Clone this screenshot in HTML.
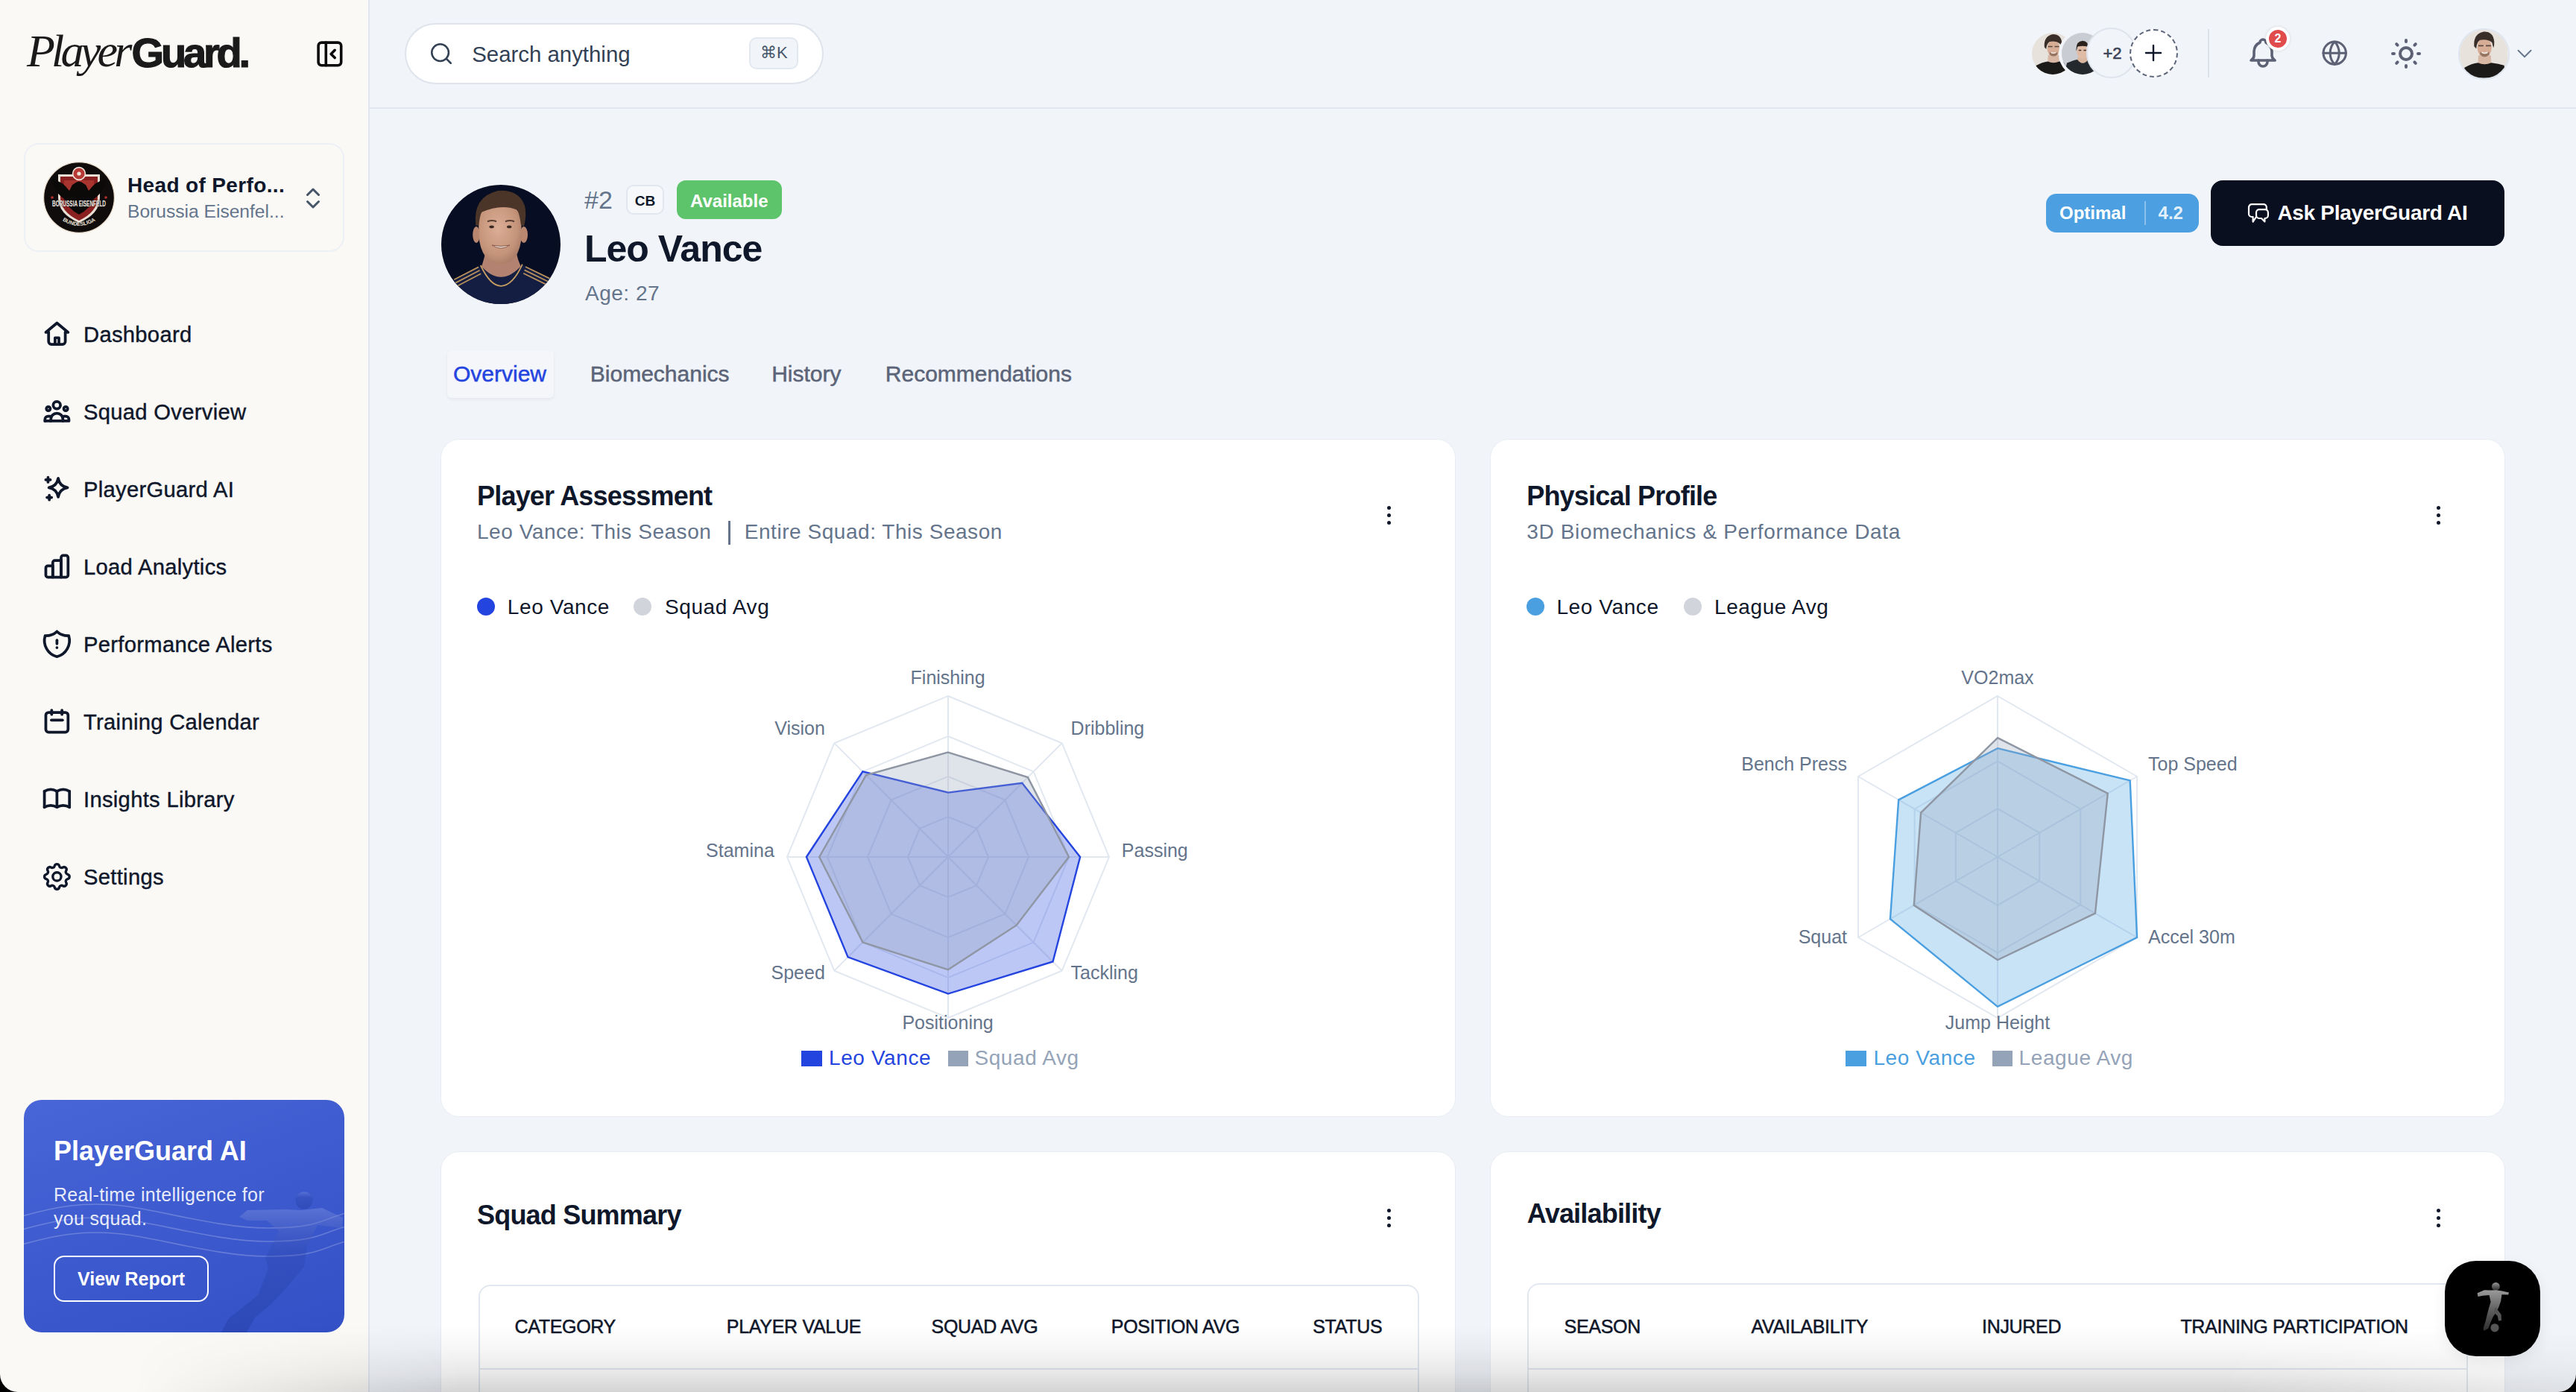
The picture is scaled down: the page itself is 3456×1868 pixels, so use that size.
<!DOCTYPE html>
<html>
<head>
<meta charset="utf-8">
<style>
@media (min-width: 2000px) { html { zoom: 2; } }
html, body { margin: 0; padding: 0; }
body { width: 1728px; height: 934px; overflow: hidden; position: relative; background: #f1f4f9; font-family: "Liberation Sans", sans-serif; color: #0f172a; }
.a { position: absolute; line-height: 1; white-space: nowrap; }
svg { display: block; }
.ic { position: absolute; fill: none; stroke: #0f172a; stroke-width: 2; stroke-linecap: round; stroke-linejoin: round; }
#sb { position: absolute; left: 0; top: 0; width: 247px; height: 934px; background: #faf9f6; border-right: 1px solid #e1e5ee; }
#hdr { position: absolute; left: 248px; top: 0; width: 1480px; height: 72px; border-bottom: 1px solid #e3e7ef; }
.nav { font-size: 14.6px; letter-spacing: 0.15px; color: #0f172a; -webkit-text-stroke: 0.2px #0f172a; }
.card { position: absolute; background: #fff; border-radius: 12px; box-shadow: 0 0 0 0.5px rgba(203,213,225,0.22); }
.ttl { font-size: 18px; font-weight: 700; letter-spacing: -0.4px; color: #0f172a; }
.sub { font-size: 14px; letter-spacing: 0.27px; color: #64748b; }
.lbl { font-size: 12.5px; color: #64748b; }
.kebab { position: absolute; width: 3px; }
.kebab i { display: block; width: 2.5px; height: 2.5px; border-radius: 50%; background: #0f172a; margin-bottom: 2.6px; }
.th { font-size: 12.5px; letter-spacing: -0.15px; color: #0f172a; -webkit-text-stroke: 0.25px #0f172a; }
.tbl { position: absolute; border: 1px solid #e2e8f0; border-radius: 8px; background: #fff; }
.tab { font-size: 15px; color: #5b6478; -webkit-text-stroke: 0.25px currentColor; }
</style>
</head>
<body>

<!-- SIDEBAR -->
<div id="sb"></div>
<div class="a" style="left:18px;top:18.6px;font-family:'Liberation Serif',serif;font-style:italic;font-size:31px;letter-spacing:-2.4px;color:#1a1a1a;">Player</div>
<div class="a" style="left:88.3px;top:21.5px;font-size:28px;font-weight:700;letter-spacing:-2.1px;color:#1a1a1a;-webkit-text-stroke:0.6px #1a1a1a;">Guard.</div>
<svg class="ic" style="left:211px;top:26px;stroke:#0a0a0a;stroke-width:2.1" width="20.4" height="20.4" viewBox="0 0 24 24"><rect x="3" y="3" width="18" height="18" rx="2.5"/><path d="M9 3v18"/><path d="m16 15-3-3 3-3"/></svg>

<div style="position:absolute;left:16px;top:96px;width:213px;height:71px;border:1px solid #edf0f5;border-radius:10px;"></div>
<svg id="clublogo" style="position:absolute;left:29px;top:108.6px" width="48" height="48" viewBox="0 0 48 48">
<defs><path id="arcb" d="M10 37.5 Q24 48.5 38 37.5"/></defs>
<circle cx="24" cy="24" r="23.7" fill="#100c0c" stroke="#e9dccb" stroke-width="0.6"/>
<path d="M10 8.5 H38 V24 Q38 35 24 41 Q10 35 10 24 Z" fill="#e9dfd4"/>
<path d="M11.5 10 H36.5 V24 Q36.5 33.5 24 39.5 Q11.5 33.5 11.5 24 Z" fill="#8a2020"/>
<path d="M14 12.5 H34 V23 Q34 30 24 35.5 Q14 30 14 23 Z" fill="#a83430"/>
<circle cx="24" cy="8" r="4.2" fill="#b83a36" stroke="#eee4da" stroke-width="0.8"/>
<circle cx="24" cy="8" r="1.3" fill="#eee4da"/>
<path d="M5.5 11.5 Q13 13 17.5 19.5 L19.5 15.5 Q24 12.5 28.5 15.5 L30.5 19.5 Q35 13 42.5 11.5 Q41 20 34 25 Q31 32 24 35.5 Q17 32 14 25 Q7 20 5.5 11.5Z" fill="#0c0909"/>
<path d="M20.5 15 Q24 11.5 27.5 15 L26 18 L22 18 Z" fill="#0c0909"/>
<text x="24" y="30.2" text-anchor="middle" font-family="Liberation Sans" font-weight="700" font-size="5" textLength="36" lengthAdjust="spacingAndGlyphs" fill="#f4eee6" stroke="#0c0909" stroke-width="0.35" paint-order="stroke">BORUSSIA EISENFELD</text>
<text font-family="Liberation Sans" font-weight="700" font-size="3.6" fill="#efe6da"><textPath href="#arcb" startOffset="50%" text-anchor="middle">BUNDESLIGA</textPath></text>
<circle cx="6" cy="24" r="0.9" fill="#b83030"/><circle cx="42" cy="24" r="0.9" fill="#b83030"/>
</svg>
<div class="a" style="left:85.5px;top:117.6px;font-size:14px;font-weight:700;letter-spacing:0.18px;color:#0f172a;">Head of Perfo...</div>
<div class="a" style="left:85.5px;top:136px;font-size:12.3px;color:#64748b;">Borussia Eisenfel...</div>
<svg class="ic" style="left:201px;top:124px;stroke:#475569;stroke-width:2" width="18" height="18" viewBox="0 0 24 24"><path d="m7 15 5 5 5-5"/><path d="m7 9 5-5 5 5"/></svg>

<div class="a nav" style="left:56px;top:217.5px">Dashboard</div>
<div class="a nav" style="left:56px;top:269.5px">Squad Overview</div>
<div class="a nav" style="left:56px;top:321.5px">PlayerGuard AI</div>
<div class="a nav" style="left:56px;top:373.5px">Load Analytics</div>
<div class="a nav" style="left:56px;top:425.5px">Performance Alerts</div>
<div class="a nav" style="left:56px;top:477.5px">Training Calendar</div>
<div class="a nav" style="left:56px;top:529.5px">Insights Library</div>
<div class="a nav" style="left:56px;top:581.5px">Settings</div>


<!-- nav icons -->
<svg class="ic" style="left:26.8px;top:213.1px" width="22.4" height="22.4" viewBox="0 0 24 24"><path d="M6 10.7H4L12 4l8 6.7h-2"/><path d="M6 10.7v6.6a2 2 0 0 0 2 2h8a2 2 0 0 0 2-2v-6.6"/><path d="M10.66 19.3v-4.7h2.74v4.7"/></svg>
<svg class="ic" style="left:26.8px;top:265.1px" width="22.4" height="22.4" viewBox="0 0 24 24"><circle cx="11.9" cy="7.4" r="2.6"/><circle cx="5.8" cy="9.9" r="1.4"/><circle cx="18.3" cy="9.9" r="1.4"/><path d="M3.4 18.7h17.2v-1.2a2.2 2.2 0 0 0-2.2-2.2h-1.6"/><path d="M3.4 18.7v-1.2a2.2 2.2 0 0 1 2.2-2.2h1.6"/><path d="M7.6 18.7v-1.2a4.35 4.35 0 0 1 8.7 0v1.2"/></svg>
<svg class="ic" style="left:26.8px;top:317.1px" width="22.4" height="22.4" viewBox="0 0 24 24"><path d="M12.9 4.2Q13.9 9.9 19.6 10.9Q13.9 11.9 12.9 17.6Q11.9 11.9 6.2 10.9Q11.9 9.9 12.9 4.2Z"/><path d="M5.6 3.6v3.3M3.95 5.25h3.3"/><path d="M6.5 16.35v3.3M4.85 18h3.3"/></svg>
<svg class="ic" style="left:26.8px;top:369.1px" width="22.4" height="22.4" viewBox="0 0 24 24"><path d="M9 19.6H5.5A1.5 1.5 0 0 1 4 18.1v-5.2a1.5 1.5 0 0 1 1.5-1.5H9z"/><path d="M9 19.6V9.1a1.5 1.5 0 0 1 1.5-1.5H15v12z"/><path d="M15 19.6V5.5A1.5 1.5 0 0 1 16.5 4h2A1.5 1.5 0 0 1 20 5.5v12.6a1.5 1.5 0 0 1-1.5 1.5z"/></svg>
<svg class="ic" style="left:26.8px;top:421.1px" width="22.4" height="22.4" viewBox="0 0 24 24"><path d="M12 3a12 12 0 0 0 8.5 3a12 12 0 0 1-8.5 15a12 12 0 0 1-8.5-15a12 12 0 0 0 8.5-3"/><path d="M12 9.2v2.5"/><path d="M12 14.5v.01"/></svg>
<svg class="ic" style="left:26.8px;top:473.1px" width="22.4" height="22.4" viewBox="0 0 24 24"><rect x="4" y="5.4" width="16" height="14.2" rx="2"/><path d="M8.2 3.8v3"/><path d="M15.6 3.8v3"/><path d="M8 10.9h8"/></svg>
<svg class="ic" style="left:26.8px;top:525.1px" width="22.4" height="22.4" viewBox="0 0 24 24"><path d="M3 17.8a9 9 0 0 1 9 0a9 9 0 0 1 9 0"/><path d="M3 6.3a9 9 0 0 1 9 0a9 9 0 0 1 9 0"/><path d="M3 6.3v11.5"/><path d="M12 6.3v11.5"/><path d="M21 6.3v11.5"/></svg>
<svg class="ic" style="left:26.8px;top:577.1px;stroke-width:1.8" width="22.4" height="22.4" viewBox="0 0 24 24"><path d="M10.325 4.317c.426-1.756 2.924-1.756 3.35 0a1.724 1.724 0 0 0 2.573 1.066c1.543-.94 3.31.826 2.37 2.37a1.724 1.724 0 0 0 1.065 2.572c1.756.426 1.756 2.924 0 3.35a1.724 1.724 0 0 0-1.066 2.573c.94 1.543-.826 3.31-2.37 2.37a1.724 1.724 0 0 0-2.572 1.065c-.426 1.756-2.924 1.756-3.35 0a1.724 1.724 0 0 0-2.573-1.066c-1.543.94-3.31-.826-2.37-2.37a1.724 1.724 0 0 0-1.065-2.572c-1.756-.426-1.756-2.924 0-3.35a1.724 1.724 0 0 0 1.066-2.573c-.94-1.543.826-3.31 2.37-2.37c1 .608 2.296.07 2.572-1.065z"/><path d="M9 12a3 3 0 1 0 6 0a3 3 0 0 0-6 0"/></svg>

<!-- promo -->
<div id="promo" style="position:absolute;left:16px;top:738px;width:215px;height:156px;border-radius:12px;background:linear-gradient(160deg,#4866d8 0%,#3c59cd 55%,#3350c6 100%);overflow:hidden;">
<svg width="215" height="156" viewBox="0 0 215 156" style="position:absolute;left:0;top:0">
<defs><linearGradient id="sil" x1="0" y1="0" x2="0" y2="1"><stop offset="0" stop-color="#7f94e0" stop-opacity="0.45"/><stop offset="0.35" stop-color="#2a43a8" stop-opacity="0.28"/><stop offset="1" stop-color="#1d3596" stop-opacity="0.35"/></linearGradient></defs>
<path d="M-1 78 C 20 72, 40 68, 66 71 S 130 86, 164 86 S 200 80, 216 76" stroke="rgba(255,255,255,0.22)" stroke-width="0.8" fill="none"/>
<path d="M-1 87 C 20 81, 40 77, 66 80 S 130 95, 164 95 S 200 89, 216 85" stroke="rgba(255,255,255,0.22)" stroke-width="0.8" fill="none"/>
<path d="M-1 97 C 20 91, 40 87, 66 90 S 130 105, 164 105 S 200 99, 216 95" stroke="rgba(255,255,255,0.22)" stroke-width="0.8" fill="none"/>
<circle cx="188" cy="67.5" r="5.8" fill="url(#sil)"/><path d="M150 74 L176 73.5 L186 74 L200 72.5 L214 79 L213.5 86 L197 84 L190 98 L188 112 L178 124 L166 137 L155 146 L149 157 L132 157 L137 147 L157 131 L164 113 L162 106 L171 88 L163 81 L150 81 L144.5 78.5 Z" fill="url(#sil)"/>
</svg></div>
<div class="a" style="left:36px;top:763.3px;font-size:18px;font-weight:700;color:#fff;">PlayerGuard AI</div>
<div class="a" style="left:36px;top:795.3px;font-size:12.5px;letter-spacing:0.15px;color:rgba(255,255,255,0.9);">Real-time intelligence for</div>
<div class="a" style="left:36px;top:811.3px;font-size:12.5px;letter-spacing:0.15px;color:rgba(255,255,255,0.9);">you squad.</div>
<div style="position:absolute;left:36px;top:842.4px;width:102px;height:29px;border:1.2px solid #fff;border-radius:7px;"></div>
<div class="a" style="left:36px;top:852px;width:104px;text-align:center;font-size:12.5px;font-weight:700;color:#fff;">View Report</div>

<!-- HEADER -->
<div id="hdr"></div>
<div style="position:absolute;left:271.5px;top:15.5px;width:279px;height:39px;border:1px solid #dfe4ec;border-radius:21px;background:#fff;"></div>
<svg class="ic" style="left:287.3px;top:27.3px;stroke:#334155;stroke-width:1.8" width="17" height="17" viewBox="0 0 24 24"><circle cx="11" cy="11" r="8"/><path d="m21 21-4.3-4.3"/></svg>
<div class="a" style="left:316.6px;top:28.8px;font-size:14.7px;color:#334155;">Search anything</div>
<div style="position:absolute;left:502.7px;top:25px;width:31px;height:19.5px;border:1px solid #e2e8f0;border-radius:5px;background:#f1f5f9;"></div>
<div class="a" style="left:502.7px;top:30px;width:33px;text-align:center;font-size:11px;color:#475569;">⌘K</div>


<!-- header right -->
<div id="av1" style="position:absolute;left:1363px;top:21.9px;width:28px;height:28px;border-radius:50%;overflow:hidden;"><svg width="28" height="28" viewBox="0 0 32 32"><rect width="32" height="32" fill="#e7e2dc"/>
<path d="M12.4 17 L12.2 22.5 Q16.5 24.5 21 22.5 L20.8 17 Z" fill="#d8b8a4"/>
<path d="M2 32 L3.2 25.2 Q8 22.5 12.2 22 Q16.5 24 21 22 Q26 22.6 29.6 23.7 L31 32 Z" fill="#1c1a19"/>
<ellipse cx="16.5" cy="11.8" rx="4.8" ry="6.4" fill="#d7ad96"/>
<path d="M9.6 11 Q9 2.5 16 1.2 Q22.5 1 23 8 Q23.2 10.5 22.4 12 L21.6 8.6 Q19 6 13.5 6.8 Q11.2 8.5 11 12.5 Z" fill="#3a2e28"/>
<path d="M12.4 10.6 h3.4 M17.4 10.6 h3.4" stroke="#5a4a42" stroke-width="0.9"/>
<path d="M13.8 14.5 Q16.5 17.5 19.5 14.5 L19.8 16.5 Q16.5 19.5 13.5 16.5Z" fill="#5e4536" opacity="0.55"/>
<path d="M14.6 15 Q16.5 16.2 18.6 15" stroke="#f2ebe6" stroke-width="0.8" fill="none"/></svg></div>
<div id="av2" style="position:absolute;left:1381px;top:19.9px;width:28px;height:28px;border-radius:50%;overflow:hidden;border:2px solid #f1f4f9;"><svg width="28" height="28" viewBox="0 0 32 32"><rect width="32" height="32" fill="#c9ccd2"/>
<path d="M12 19 L12 23.5 Q16 25 20 23.5 L20 19 Z" fill="#d9b6a0"/>
<path d="M2 32 L4 23.1 Q9 21 12 20.5 Q16 26 20.5 20.5 Q26 21.5 30 24 L31 32 Z" fill="#23282c"/>
<ellipse cx="15.8" cy="14.6" rx="4.3" ry="5.6" fill="#e0bca6"/>
<path d="M11.2 14 Q10.6 6.4 16 6.1 Q21 6.3 20.6 13 L19.8 10.6 Q16 9.6 12.2 10.6 Z" fill="#2a211d"/>
<path d="M13 13.4 h2 M16.8 13.4 h2" stroke="#3d2f28" stroke-width="0.8"/></svg></div>
<div style="position:absolute;left:1399.5px;top:18.7px;width:31.6px;height:31.6px;border-radius:50%;background:#f1f4f9;border:1.4px solid #dfe4ec;"></div>
<div class="a" style="left:1400px;top:30.4px;width:34px;text-align:center;font-size:11px;color:#3c4356;-webkit-text-stroke:0.3px #3c4356;">+2</div>
<div style="position:absolute;left:1428.5px;top:19.5px;width:30.5px;height:30.5px;border-radius:50%;background:#fff;border:1px dashed #5b6478;"></div>
<svg class="ic" style="left:1436.75px;top:27.75px;stroke:#0f172a;stroke-width:1.2" width="15" height="15" viewBox="0 0 15 15"><path d="M7.5 2.5v10M2.5 7.5h10"/></svg>
<div style="position:absolute;left:1481px;top:19.5px;width:1px;height:32.5px;background:#dde2ea;"></div>
<svg class="ic" style="left:1505.85px;top:23.6px;stroke:#5d6175;stroke-width:1.8" width="24" height="24" viewBox="0 0 24 24"><path d="M10 5a2 2 0 1 1 4 0a7 7 0 0 1 4 6v3a4 4 0 0 0 2 3h-16a4 4 0 0 0 2-3v-3a7 7 0 0 1 4-6"/><path d="M9 17v1a3 3 0 0 0 6 0v-1"/></svg>
<div style="position:absolute;left:1520px;top:18px;width:12px;height:12px;border-radius:50%;background:#e04b4b;border:2px solid #fff;box-shadow:0 0 2px rgba(0,0,0,0.12);"></div>
<div class="a" style="left:1520px;top:22.2px;width:16px;text-align:center;font-size:8px;font-weight:700;color:#fff;">2</div>
<svg class="ic" style="left:1556.75px;top:26.7px;stroke:#5d6175;stroke-width:2" width="18.2" height="18.2" viewBox="0 0 24 24"><circle cx="12" cy="12" r="10"/><path d="M12 2a14.5 14.5 0 0 0 0 20a14.5 14.5 0 0 0 0-20"/><path d="M2 12h20"/></svg>
<svg class="ic" style="left:1602px;top:24px;stroke:#5d6175;stroke-width:2" width="24" height="24" viewBox="0 0 24 24"><circle cx="12" cy="12" r="4"/><path d="M3 12h1m8-9v1m8 8h1m-9 8v1m-6.4-15.4l.7.7m12.1-.7l-.7.7m0 11.4l.7.7m-12.1-.7l-.7.7"/></svg>
<div id="av3" style="position:absolute;left:1649.2px;top:19.2px;width:32.2px;height:32.2px;border-radius:50%;overflow:hidden;border:1.4px solid #dfe5ef;"><svg width="32.2" height="32.2" viewBox="0 0 32 32"><rect width="32" height="32" fill="#e7e2dc"/>
<path d="M12.4 17 L12.2 22.5 Q16.5 24.5 21 22.5 L20.8 17 Z" fill="#d8b8a4"/>
<path d="M2 32 L3.2 25.2 Q8 22.5 12.2 22 Q16.5 24 21 22 Q26 22.6 29.6 23.7 L31 32 Z" fill="#1c1a19"/>
<ellipse cx="16.5" cy="11.8" rx="4.8" ry="6.4" fill="#d7ad96"/>
<path d="M9.6 11 Q9 2.5 16 1.2 Q22.5 1 23 8 Q23.2 10.5 22.4 12 L21.6 8.6 Q19 6 13.5 6.8 Q11.2 8.5 11 12.5 Z" fill="#3a2e28"/>
<path d="M12.4 10.6 h3.4 M17.4 10.6 h3.4" stroke="#5a4a42" stroke-width="0.9"/>
<path d="M13.8 14.5 Q16.5 17.5 19.5 14.5 L19.8 16.5 Q16.5 19.5 13.5 16.5Z" fill="#5e4536" opacity="0.55"/>
<path d="M14.6 15 Q16.5 16.2 18.6 15" stroke="#f2ebe6" stroke-width="0.8" fill="none"/></svg></div>
<svg class="ic" style="left:1685.2px;top:27.6px;stroke:#64748b;stroke-width:1.3" width="17" height="17" viewBox="0 0 24 24"><path d="m6 9 6 6 6-6"/></svg>

<!-- player header -->
<div id="photo" style="position:absolute;left:296px;top:124px;width:80px;height:80px;border-radius:50%;overflow:hidden;">
<svg width="80" height="80" viewBox="0 0 80 80"><rect width="80" height="80" fill="#070d22"/>
<defs><radialGradient id="skin" cx="0.45" cy="0.4" r="0.65"><stop offset="0" stop-color="#dcae95"/><stop offset="0.7" stop-color="#c4937a"/><stop offset="1" stop-color="#a87a65"/></radialGradient></defs>
<path d="M30 44 L28.5 50 L26.7 56 Q40 70 53.8 56 L51.5 50 L50 44 Z" fill="#b48270"/>
<path d="M0 80 L4 68 Q8 63 12 62.5 L26.4 54 Q40 70 54.4 53.5 L70 62 Q76 64 80 72 L80 80 Z" fill="#141d42"/>
<path d="M8.6 63.6 L25 55.2 M9.6 65.8 L25.8 57.4 M10.6 68 L26.6 59.6 M56.5 55 L72.6 62.8 M55.8 57.2 L71.8 65 M55.1 59.4 L71 67.2" stroke="#b8915a" stroke-width="0.9"/>
<path d="M26.4 54 Q33 68 40.2 67.9 Q48 67.5 54.4 53.3" stroke="#c59d62" stroke-width="0.9" fill="none"/>
<ellipse cx="23.5" cy="33.5" rx="2.4" ry="5.5" fill="#b98670"/><ellipse cx="55.4" cy="33.5" rx="2.6" ry="5.5" fill="#b98670"/>
<path d="M25 26 Q24.5 14 40 13 Q54 13.5 53.8 26 L53.5 38 Q52 47 47.3 51 Q43 53 40 53 Q36 53 32 51 Q27 46 25.6 38 Z" fill="url(#skin)"/>
<path d="M23.1 27.3 Q21 8 38 4 Q52 3 56 14 Q57.5 20 55.5 28 L53.5 27 Q52.5 19 50.8 16.7 Q40 12.5 27 18.4 Q25.6 22 25.2 27.5 Z" fill="#4a3528"/>
<path d="M31 24.6 Q34 23.4 37 24.6 M43 24.6 Q46 23.4 49 24.6" stroke="#5a4032" stroke-width="1" fill="none"/>
<ellipse cx="33.8" cy="28.2" rx="1.6" ry="0.9" fill="#3a2a22"/><ellipse cx="45.6" cy="28.2" rx="1.6" ry="0.9" fill="#3a2a22"/>
<path d="M34 40.5 Q40 44.5 46 40.5 Q40 42 34 40.5Z" fill="#f5ede6" stroke="#8a5a48" stroke-width="0.5"/>
</svg></div>
<div class="a" style="left:392px;top:125.3px;font-size:17px;color:#64748b;">#2</div>
<div style="position:absolute;left:420px;top:124.2px;width:23.6px;height:17.6px;border:1px solid #e2e6ee;border-radius:5px;background:#f6f8fb;"></div>
<div class="a" style="left:420px;top:130px;width:25.6px;text-align:center;font-size:9.5px;font-weight:700;color:#0f172a;">CB</div>
<div style="position:absolute;left:453.9px;top:121px;width:70.5px;height:26px;border-radius:6px;background:#5ec46b;"></div>
<div class="a" style="left:453.9px;top:128.8px;width:70.5px;text-align:center;font-size:12px;font-weight:700;color:#fff;">Available</div>
<div class="a" style="left:392px;top:154.6px;font-size:25px;font-weight:700;letter-spacing:-0.5px;color:#0f172a;">Leo Vance</div>
<div class="a" style="left:392.5px;top:190.1px;font-size:14px;letter-spacing:0.25px;color:#64748b;">Age: 27</div>

<div style="position:absolute;left:1372.4px;top:130px;width:102.6px;height:26px;border-radius:7px;background:#4c9fe1;"></div>
<div class="a" style="left:1381.5px;top:136.8px;font-size:12px;font-weight:700;color:#fff;">Optimal</div>
<div style="position:absolute;left:1438.5px;top:135px;width:1px;height:16px;background:rgba(255,255,255,0.35);"></div>
<div class="a" style="left:1447.8px;top:136.8px;font-size:12px;font-weight:700;color:rgba(255,255,255,0.85);">4.2</div>
<div style="position:absolute;left:1483px;top:121px;width:197px;height:44px;border-radius:8px;background:#0a0f1f;"></div>
<svg class="ic" style="left:1507px;top:135px;stroke:#fff;stroke-width:1.1" width="16" height="16" viewBox="0 0 16 16"><path d="M6.5 10.5L4.3 13.8V10.5H3.5A2 2 0 0 1 1.5 8.5V4.1A2 2 0 0 1 3.5 2.1H11.4A2 2 0 0 1 13.4 4.1V5.6"/><path d="M8.5 5.6H12.45A2 2 0 0 1 14.45 7.6V9.5A2 2 0 0 1 12.45 11.5H12.2V13.75L10 11.5H8.5A2 2 0 0 1 6.5 9.5V7.6A2 2 0 0 1 8.5 5.6Z"/></svg>
<div class="a" style="left:1527.7px;top:136.1px;font-size:14px;font-weight:700;letter-spacing:-0.15px;color:#fff;">Ask PlayerGuard AI</div>

<!-- tabs -->
<div style="position:absolute;left:300px;top:235px;width:71.6px;height:32px;border-radius:3px;background:#f4f6fa;box-shadow:0 1px 2px rgba(15,23,42,0.06);"></div>
<div class="a tab" style="left:304px;top:243.5px;color:#2444e0;">Overview</div>
<div class="a tab" style="left:395.9px;top:243.5px;">Biomechanics</div>
<div class="a tab" style="left:517.6px;top:243.5px;">History</div>
<div class="a tab" style="left:593.9px;top:243.5px;">Recommendations</div>

<!-- CONTENT -->
<div class="card" style="left:296px;top:295px;width:680px;height:454px;"></div>
<div class="card" style="left:1000px;top:295px;width:680px;height:454px;"></div>
<div class="card" style="left:296px;top:773px;width:680px;height:200px;"></div>
<div class="card" style="left:1000px;top:773px;width:680px;height:200px;"></div>


<!-- card1 content -->
<div class="a ttl" style="left:320px;top:324.2px">Player Assessment</div>
<div class="a sub" style="left:320px;top:350px">Leo Vance: This Season</div>
<div style="position:absolute;left:488.6px;top:349.5px;width:1.2px;height:16px;background:#64748b;"></div>
<div class="a sub" style="left:499.4px;top:350px">Entire Squad: This Season</div>
<div class="kebab" style="left:930.5px;top:339.4px"><i></i><i></i><i></i></div>
<div style="position:absolute;left:320px;top:401px;width:12px;height:12px;border-radius:50%;background:#2444e0;"></div>
<div class="a" style="left:340.4px;top:400.5px;font-size:14px;letter-spacing:0.3px;color:#0f172a;">Leo Vance</div>
<div style="position:absolute;left:425px;top:401px;width:12px;height:12px;border-radius:50%;background:#d1d5db;"></div>
<div class="a" style="left:446px;top:400.5px;font-size:14px;letter-spacing:0.3px;color:#0f172a;">Squad Avg</div>
<svg style="position:absolute;left:485.8px;top:425px" width="300" height="300" viewBox="0 0 300 300"><polygon points="150.00,123.00 169.09,130.91 177.00,150.00 169.09,169.09 150.00,177.00 130.91,169.09 123.00,150.00 130.91,130.91" fill="none" stroke="#e2e8f0" stroke-width="1"/><polygon points="150.00,96.00 188.18,111.82 204.00,150.00 188.18,188.18 150.00,204.00 111.82,188.18 96.00,150.00 111.82,111.82" fill="none" stroke="#e2e8f0" stroke-width="1"/><polygon points="150.00,69.00 207.28,92.72 231.00,150.00 207.28,207.28 150.00,231.00 92.72,207.28 69.00,150.00 92.72,92.72" fill="none" stroke="#e2e8f0" stroke-width="1"/><polygon points="150.00,42.00 226.37,73.63 258.00,150.00 226.37,226.37 150.00,258.00 73.63,226.37 42.00,150.00 73.63,73.63" fill="none" stroke="#e2e8f0" stroke-width="1"/><line x1="150" y1="150" x2="150.00" y2="42.00" stroke="#e2e8f0" stroke-width="1"/><line x1="150" y1="150" x2="226.37" y2="73.63" stroke="#e2e8f0" stroke-width="1"/><line x1="150" y1="150" x2="258.00" y2="150.00" stroke="#e2e8f0" stroke-width="1"/><line x1="150" y1="150" x2="226.37" y2="226.37" stroke="#e2e8f0" stroke-width="1"/><line x1="150" y1="150" x2="150.00" y2="258.00" stroke="#e2e8f0" stroke-width="1"/><line x1="150" y1="150" x2="73.63" y2="226.37" stroke="#e2e8f0" stroke-width="1"/><line x1="150" y1="150" x2="42.00" y2="150.00" stroke="#e2e8f0" stroke-width="1"/><line x1="150" y1="150" x2="73.63" y2="73.63" stroke="#e2e8f0" stroke-width="1"/><polygon points="150.00,106.80 199.64,100.36 238.56,150.00 220.26,220.26 150.00,241.80 82.80,217.20 54.96,150.00 92.72,92.72" fill="rgba(36,68,224,0.3)" stroke="#2444e0" stroke-width="1.2"/><polygon points="150.00,79.80 203.46,96.54 231.00,150.00 195.82,195.82 150.00,225.60 92.72,207.28 63.60,150.00 95.02,95.02" fill="rgba(148,163,184,0.3)" stroke="#8f96a3" stroke-width="1.2"/></svg>
<div class="a lbl" style="left:585.8px;top:448.5px;width:100px;text-align:center;">Finishing</div>
<div class="a lbl" style="left:453.4px;top:482.3px;width:100px;text-align:right;">Vision</div>
<div class="a lbl" style="left:718.3px;top:482.3px;">Dribbling</div>
<div class="a lbl" style="left:419.4px;top:564.4px;width:100px;text-align:right;">Stamina</div>
<div class="a lbl" style="left:752.4px;top:564.4px;">Passing</div>
<div class="a lbl" style="left:453.4px;top:646.3px;width:100px;text-align:right;">Speed</div>
<div class="a lbl" style="left:718.3px;top:646.3px;">Tackling</div>
<div class="a lbl" style="left:585.8px;top:680.2px;width:100px;text-align:center;">Positioning</div>
<div style="position:absolute;left:537.3px;top:705px;width:14px;height:10.5px;background:#2444e0;"></div>
<div class="a" style="left:556px;top:703px;font-size:14px;letter-spacing:0.3px;color:#2444e0;">Leo Vance</div>
<div style="position:absolute;left:635.8px;top:705px;width:13.6px;height:10.5px;background:#94a3b8;"></div>
<div class="a" style="left:653.7px;top:703px;font-size:14px;letter-spacing:0.3px;color:#94a3b8;">Squad Avg</div>

<!-- card2 content -->
<div class="a ttl" style="left:1024.1px;top:324.2px">Physical Profile</div>
<div class="a sub" style="left:1024.1px;top:350px;letter-spacing:0.33px">3D Biomechanics &amp; Performance Data</div>
<div class="kebab" style="left:1634.3px;top:339.4px"><i></i><i></i><i></i></div>
<div style="position:absolute;left:1024px;top:401px;width:12px;height:12px;border-radius:50%;background:#4a9fe0;"></div>
<div class="a" style="left:1044.2px;top:400.5px;font-size:14px;letter-spacing:0.3px;color:#0f172a;">Leo Vance</div>
<div style="position:absolute;left:1129.4px;top:401px;width:12px;height:12px;border-radius:50%;background:#d1d5db;"></div>
<div class="a" style="left:1150px;top:400.5px;font-size:14px;letter-spacing:0.3px;color:#0f172a;">League Avg</div>
<svg style="position:absolute;left:1190px;top:425px" width="300" height="300" viewBox="0 0 300 300"><polygon points="150.00,117.60 178.06,133.80 178.06,166.20 150.00,182.40 121.94,166.20 121.94,133.80" fill="none" stroke="#e2e8f0" stroke-width="1"/><polygon points="150.00,85.74 205.65,117.87 205.65,182.13 150.00,214.26 94.35,182.13 94.35,117.87" fill="none" stroke="#e2e8f0" stroke-width="1"/><polygon points="150.00,42.00 243.53,96.00 243.53,204.00 150.00,258.00 56.47,204.00 56.47,96.00" fill="none" stroke="#e2e8f0" stroke-width="1"/><line x1="150" y1="150" x2="150.00" y2="42.00" stroke="#e2e8f0" stroke-width="1"/><line x1="150" y1="150" x2="243.53" y2="96.00" stroke="#e2e8f0" stroke-width="1"/><line x1="150" y1="150" x2="243.53" y2="204.00" stroke="#e2e8f0" stroke-width="1"/><line x1="150" y1="150" x2="150.00" y2="258.00" stroke="#e2e8f0" stroke-width="1"/><line x1="150" y1="150" x2="56.47" y2="204.00" stroke="#e2e8f0" stroke-width="1"/><line x1="150" y1="150" x2="56.47" y2="96.00" stroke="#e2e8f0" stroke-width="1"/><polygon points="150.00,77.10 238.85,98.70 243.53,204.00 150.00,250.44 77.98,191.58 83.59,111.66" fill="rgba(74,159,224,0.3)" stroke="#4a9fe0" stroke-width="1.2"/><polygon points="150.00,70.08 223.89,107.34 215.47,187.80 150.00,219.12 93.88,182.40 98.56,120.30" fill="rgba(148,163,184,0.3)" stroke="#8f96a3" stroke-width="1.2"/></svg>
<div class="a lbl" style="left:1290px;top:448.5px;width:100px;text-align:center;">VO2max</div>
<div class="a lbl" style="left:1139px;top:506.4px;width:100px;text-align:right;">Bench Press</div>
<div class="a lbl" style="left:1441px;top:506.4px;">Top Speed</div>
<div class="a lbl" style="left:1139px;top:622.5px;width:100px;text-align:right;">Squat</div>
<div class="a lbl" style="left:1441px;top:622.5px;">Accel 30m</div>
<div class="a lbl" style="left:1290px;top:680.2px;width:100px;text-align:center;">Jump Height</div>
<div style="position:absolute;left:1237.9px;top:705px;width:14px;height:10.5px;background:#4a9fe0;"></div>
<div class="a" style="left:1256.7px;top:703px;font-size:14px;letter-spacing:0.3px;color:#4a9fe0;">Leo Vance</div>
<div style="position:absolute;left:1336.4px;top:705px;width:13.6px;height:10.5px;background:#94a3b8;"></div>
<div class="a" style="left:1354.3px;top:703px;font-size:14px;letter-spacing:0.3px;color:#94a3b8;">League Avg</div>

<!-- card3 content -->
<div class="a ttl" style="left:320px;top:806.4px">Squad Summary</div>
<div class="kebab" style="left:930.5px;top:810.8px"><i></i><i></i><i></i></div>
<div class="tbl" style="left:320.8px;top:861.8px;width:629px;height:120px;"></div>
<div style="position:absolute;left:321.8px;top:918px;width:629px;height:1px;background:#e2e8f0;"></div>
<div class="a th" style="left:345.2px;top:884.1px">CATEGORY</div>
<div class="a th" style="left:487.4px;top:884.1px">PLAYER VALUE</div>
<div class="a th" style="left:624.8px;top:884.1px">SQUAD AVG</div>
<div class="a th" style="left:745.4px;top:884.1px">POSITION AVG</div>
<div class="a th" style="left:880.6px;top:884.1px">STATUS</div>

<!-- card4 content -->
<div class="a ttl" style="left:1024.4px;top:805.6px">Availability</div>
<div class="kebab" style="left:1634.7px;top:810.8px"><i></i><i></i><i></i></div>
<div class="tbl" style="left:1024.4px;top:861.1px;width:629px;height:120px;"></div>
<div style="position:absolute;left:1025.4px;top:918px;width:629px;height:1px;background:#e2e8f0;"></div>
<div class="a th" style="left:1049.3px;top:884.1px">SEASON</div>
<div class="a th" style="left:1174.8px;top:884.1px">AVAILABILITY</div>
<div class="a th" style="left:1329.5px;top:884.1px">INJURED</div>
<div class="a th" style="left:1462.7px;top:884.1px">TRAINING PARTICIPATION</div>

<!-- floating button -->
<div style="position:absolute;left:1640px;top:846px;width:64px;height:64px;border-radius:21px;background:#000;box-shadow:0 3px 10px rgba(0,0,0,0.07);">
<svg width="64" height="64" viewBox="0 0 64 64" style="position:absolute;left:0;top:0">
<defs><linearGradient id="fb" x1="0" y1="0" x2="0" y2="1"><stop offset="0" stop-color="#9a9a9a"/><stop offset="0.5" stop-color="#5e5e5e"/><stop offset="1" stop-color="#2e2e2e"/></linearGradient></defs>
<circle cx="34.2" cy="17.2" r="2.7" fill="url(#fb)"/>
<path d="M21.8 21.6 L26.5 19.6 L31 19.8 L34.5 19.6 L38.5 20.2 L43 21.2 L42.6 22.8 L38.2 22.6 L37.6 27 L36.2 31 L34.6 34.2 L32.4 37.5 L30.6 41.5 L29.2 45.4 L26.2 47 L25.8 45.2 L27.2 41 L28.4 36 L29.6 31.5 L30.8 27.5 L29.8 23 L25.6 23.4 L22.2 24 Z" fill="url(#fb)"/>
<path d="M34 31 L37.8 36 L38 40 L36 40.2 L35.4 37 L32.6 34.5 Z" fill="#555"/>
<circle cx="33.5" cy="44.9" r="2.8" fill="#555"/>
</svg></div>


<!-- bottom shading and window corners -->
<div style="position:absolute;left:90px;top:890px;width:1638px;height:44px;background:linear-gradient(to bottom, rgba(0,0,0,0) 0%, rgba(0,0,0,0.035) 35%, rgba(0,0,0,0.09) 70%, rgba(0,0,0,0.17) 100%);-webkit-mask-image:linear-gradient(to right, transparent 0px, #000 220px, #000 1400px, rgba(0,0,0,0.45) 1638px);mask-image:linear-gradient(to right, transparent 0px, #000 220px, #000 1400px, rgba(0,0,0,0.45) 1638px);pointer-events:none;"></div>
<svg style="position:absolute;left:0;top:922px" width="12" height="12" viewBox="0 0 12 12"><path d="M0 0 A12 12 0 0 0 12 12 H0 Z" fill="#000"/></svg>
<svg style="position:absolute;left:1716px;top:922px" width="12" height="12" viewBox="0 0 12 12"><path d="M12 0 A12 12 0 0 1 0 12 H12 Z" fill="#000"/></svg>
</body>
</html>
